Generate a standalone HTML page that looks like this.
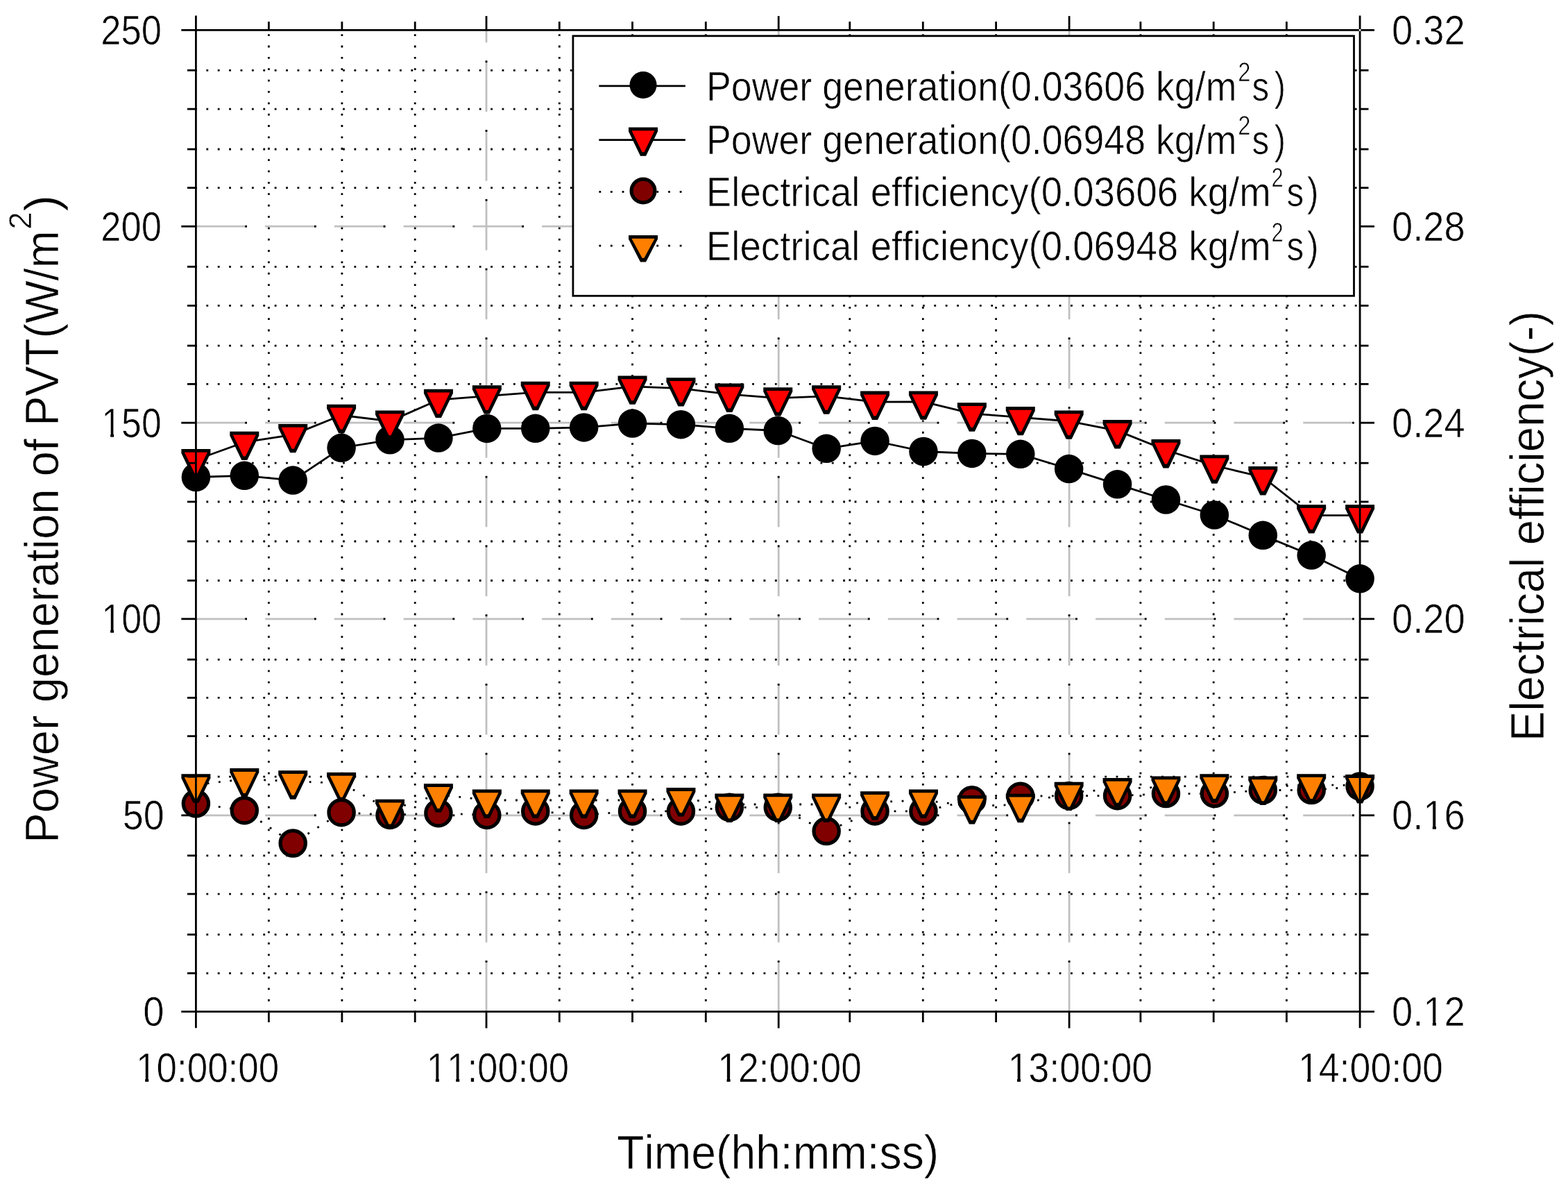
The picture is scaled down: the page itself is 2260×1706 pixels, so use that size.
<!DOCTYPE html><html><head><meta charset="utf-8"><style>html,body{margin:0;padding:0;background:#fff;overflow:hidden;width:2260px;height:1706px;}svg{display:block;}text{font-family:"Liberation Sans",Arial,sans-serif;fill:#000;font-kerning:none;font-feature-settings:"kern" 0;stroke:#fff;stroke-width:0.7px;}</style></head><body>
<svg width="2260" height="1706" viewBox="0 0 2260 1706">
<rect x="0" y="0" width="2260" height="1706" fill="#fff"/>
<g id="grid"><line x1="281.00" y1="1402.30" x2="1960.10" y2="1402.30" stroke="#000" stroke-width="2.8" stroke-dasharray="2.8 13.59"/><line x1="281.00" y1="1346.60" x2="1960.10" y2="1346.60" stroke="#000" stroke-width="2.8" stroke-dasharray="2.8 13.59"/><line x1="281.00" y1="1288.10" x2="1960.10" y2="1288.10" stroke="#000" stroke-width="2.8" stroke-dasharray="2.8 13.59"/><line x1="281.00" y1="1232.80" x2="1960.10" y2="1232.80" stroke="#000" stroke-width="2.8" stroke-dasharray="2.8 13.59"/><line x1="281.00" y1="1119.20" x2="1960.10" y2="1119.20" stroke="#000" stroke-width="2.8" stroke-dasharray="2.8 13.59"/><line x1="281.00" y1="1060.70" x2="1960.10" y2="1060.70" stroke="#000" stroke-width="2.8" stroke-dasharray="2.8 13.59"/><line x1="281.00" y1="1005.40" x2="1960.10" y2="1005.40" stroke="#000" stroke-width="2.8" stroke-dasharray="2.8 13.59"/><line x1="281.00" y1="950.30" x2="1960.10" y2="950.30" stroke="#000" stroke-width="2.8" stroke-dasharray="2.8 13.59"/><line x1="281.00" y1="836.50" x2="1960.10" y2="836.50" stroke="#000" stroke-width="2.8" stroke-dasharray="2.8 13.59"/><line x1="281.00" y1="780.00" x2="1960.10" y2="780.00" stroke="#000" stroke-width="2.8" stroke-dasharray="2.8 13.59"/><line x1="281.00" y1="723.00" x2="1960.10" y2="723.00" stroke="#000" stroke-width="2.8" stroke-dasharray="2.8 13.59"/><line x1="281.00" y1="667.20" x2="1960.10" y2="667.20" stroke="#000" stroke-width="2.8" stroke-dasharray="2.8 13.59"/><line x1="281.00" y1="553.40" x2="1960.10" y2="553.40" stroke="#000" stroke-width="2.8" stroke-dasharray="2.8 13.59"/><line x1="281.00" y1="498.10" x2="1960.10" y2="498.10" stroke="#000" stroke-width="2.8" stroke-dasharray="2.8 13.59"/><line x1="281.00" y1="440.40" x2="1960.10" y2="440.40" stroke="#000" stroke-width="2.8" stroke-dasharray="2.8 13.59"/><line x1="281.00" y1="384.30" x2="1960.10" y2="384.30" stroke="#000" stroke-width="2.8" stroke-dasharray="2.8 13.59"/><line x1="281.00" y1="270.60" x2="1960.10" y2="270.60" stroke="#000" stroke-width="2.8" stroke-dasharray="2.8 13.59"/><line x1="281.00" y1="215.00" x2="1960.10" y2="215.00" stroke="#000" stroke-width="2.8" stroke-dasharray="2.8 13.59"/><line x1="281.00" y1="157.10" x2="1960.10" y2="157.10" stroke="#000" stroke-width="2.8" stroke-dasharray="2.8 13.59"/><line x1="281.00" y1="101.30" x2="1960.10" y2="101.30" stroke="#000" stroke-width="2.8" stroke-dasharray="2.8 13.59"/><line x1="387.40" y1="1459.00" x2="387.40" y2="43.40" stroke="#000" stroke-width="2.8" stroke-dasharray="2.8 13.56"/><line x1="492.90" y1="1459.00" x2="492.90" y2="43.40" stroke="#000" stroke-width="2.8" stroke-dasharray="2.8 13.56"/><line x1="598.20" y1="1459.00" x2="598.20" y2="43.40" stroke="#000" stroke-width="2.8" stroke-dasharray="2.8 13.56"/><line x1="806.30" y1="1459.00" x2="806.30" y2="43.40" stroke="#000" stroke-width="2.8" stroke-dasharray="2.8 13.56"/><line x1="911.50" y1="1459.00" x2="911.50" y2="43.40" stroke="#000" stroke-width="2.8" stroke-dasharray="2.8 13.56"/><line x1="1017.30" y1="1459.00" x2="1017.30" y2="43.40" stroke="#000" stroke-width="2.8" stroke-dasharray="2.8 13.56"/><line x1="1224.80" y1="1459.00" x2="1224.80" y2="43.40" stroke="#000" stroke-width="2.8" stroke-dasharray="2.8 13.56"/><line x1="1330.30" y1="1459.00" x2="1330.30" y2="43.40" stroke="#000" stroke-width="2.8" stroke-dasharray="2.8 13.56"/><line x1="1435.60" y1="1459.00" x2="1435.60" y2="43.40" stroke="#000" stroke-width="2.8" stroke-dasharray="2.8 13.56"/><line x1="1643.90" y1="1459.00" x2="1643.90" y2="43.40" stroke="#000" stroke-width="2.8" stroke-dasharray="2.8 13.56"/><line x1="1749.20" y1="1459.00" x2="1749.20" y2="43.40" stroke="#000" stroke-width="2.8" stroke-dasharray="2.8 13.56"/><line x1="1854.40" y1="1459.00" x2="1854.40" y2="43.40" stroke="#000" stroke-width="2.8" stroke-dasharray="2.8 13.56"/><line x1="282.40" y1="1174.80" x2="356.00" y2="1174.80" stroke="#c0c0c0" stroke-width="2.8"/><rect x="353.20" y="1173.40" width="2.8" height="2.8" fill="#000"/><line x1="382.14" y1="1174.80" x2="455.74" y2="1174.80" stroke="#c0c0c0" stroke-width="2.8"/><rect x="452.94" y="1173.40" width="2.8" height="2.8" fill="#000"/><line x1="481.88" y1="1174.80" x2="555.48" y2="1174.80" stroke="#c0c0c0" stroke-width="2.8"/><rect x="552.68" y="1173.40" width="2.8" height="2.8" fill="#000"/><line x1="581.62" y1="1174.80" x2="655.22" y2="1174.80" stroke="#c0c0c0" stroke-width="2.8"/><rect x="652.42" y="1173.40" width="2.8" height="2.8" fill="#000"/><line x1="681.36" y1="1174.80" x2="754.96" y2="1174.80" stroke="#c0c0c0" stroke-width="2.8"/><rect x="752.16" y="1173.40" width="2.8" height="2.8" fill="#000"/><line x1="781.10" y1="1174.80" x2="854.70" y2="1174.80" stroke="#c0c0c0" stroke-width="2.8"/><rect x="851.90" y="1173.40" width="2.8" height="2.8" fill="#000"/><line x1="880.84" y1="1174.80" x2="954.44" y2="1174.80" stroke="#c0c0c0" stroke-width="2.8"/><rect x="951.64" y="1173.40" width="2.8" height="2.8" fill="#000"/><line x1="980.58" y1="1174.80" x2="1054.18" y2="1174.80" stroke="#c0c0c0" stroke-width="2.8"/><rect x="1051.38" y="1173.40" width="2.8" height="2.8" fill="#000"/><line x1="1080.32" y1="1174.80" x2="1153.92" y2="1174.80" stroke="#c0c0c0" stroke-width="2.8"/><rect x="1151.12" y="1173.40" width="2.8" height="2.8" fill="#000"/><line x1="1180.06" y1="1174.80" x2="1253.66" y2="1174.80" stroke="#c0c0c0" stroke-width="2.8"/><rect x="1250.86" y="1173.40" width="2.8" height="2.8" fill="#000"/><line x1="1279.80" y1="1174.80" x2="1353.40" y2="1174.80" stroke="#c0c0c0" stroke-width="2.8"/><rect x="1350.60" y="1173.40" width="2.8" height="2.8" fill="#000"/><line x1="1379.54" y1="1174.80" x2="1453.14" y2="1174.80" stroke="#c0c0c0" stroke-width="2.8"/><rect x="1450.34" y="1173.40" width="2.8" height="2.8" fill="#000"/><line x1="1479.28" y1="1174.80" x2="1552.88" y2="1174.80" stroke="#c0c0c0" stroke-width="2.8"/><rect x="1550.08" y="1173.40" width="2.8" height="2.8" fill="#000"/><line x1="1579.02" y1="1174.80" x2="1652.62" y2="1174.80" stroke="#c0c0c0" stroke-width="2.8"/><rect x="1649.82" y="1173.40" width="2.8" height="2.8" fill="#000"/><line x1="1678.76" y1="1174.80" x2="1752.36" y2="1174.80" stroke="#c0c0c0" stroke-width="2.8"/><rect x="1749.56" y="1173.40" width="2.8" height="2.8" fill="#000"/><line x1="1778.50" y1="1174.80" x2="1852.10" y2="1174.80" stroke="#c0c0c0" stroke-width="2.8"/><rect x="1849.30" y="1173.40" width="2.8" height="2.8" fill="#000"/><line x1="1878.24" y1="1174.80" x2="1951.84" y2="1174.80" stroke="#c0c0c0" stroke-width="2.8"/><rect x="1949.04" y="1173.40" width="2.8" height="2.8" fill="#000"/><line x1="282.40" y1="891.80" x2="356.00" y2="891.80" stroke="#c0c0c0" stroke-width="2.8"/><rect x="353.20" y="890.40" width="2.8" height="2.8" fill="#000"/><line x1="382.14" y1="891.80" x2="455.74" y2="891.80" stroke="#c0c0c0" stroke-width="2.8"/><rect x="452.94" y="890.40" width="2.8" height="2.8" fill="#000"/><line x1="481.88" y1="891.80" x2="555.48" y2="891.80" stroke="#c0c0c0" stroke-width="2.8"/><rect x="552.68" y="890.40" width="2.8" height="2.8" fill="#000"/><line x1="581.62" y1="891.80" x2="655.22" y2="891.80" stroke="#c0c0c0" stroke-width="2.8"/><rect x="652.42" y="890.40" width="2.8" height="2.8" fill="#000"/><line x1="681.36" y1="891.80" x2="754.96" y2="891.80" stroke="#c0c0c0" stroke-width="2.8"/><rect x="752.16" y="890.40" width="2.8" height="2.8" fill="#000"/><line x1="781.10" y1="891.80" x2="854.70" y2="891.80" stroke="#c0c0c0" stroke-width="2.8"/><rect x="851.90" y="890.40" width="2.8" height="2.8" fill="#000"/><line x1="880.84" y1="891.80" x2="954.44" y2="891.80" stroke="#c0c0c0" stroke-width="2.8"/><rect x="951.64" y="890.40" width="2.8" height="2.8" fill="#000"/><line x1="980.58" y1="891.80" x2="1054.18" y2="891.80" stroke="#c0c0c0" stroke-width="2.8"/><rect x="1051.38" y="890.40" width="2.8" height="2.8" fill="#000"/><line x1="1080.32" y1="891.80" x2="1153.92" y2="891.80" stroke="#c0c0c0" stroke-width="2.8"/><rect x="1151.12" y="890.40" width="2.8" height="2.8" fill="#000"/><line x1="1180.06" y1="891.80" x2="1253.66" y2="891.80" stroke="#c0c0c0" stroke-width="2.8"/><rect x="1250.86" y="890.40" width="2.8" height="2.8" fill="#000"/><line x1="1279.80" y1="891.80" x2="1353.40" y2="891.80" stroke="#c0c0c0" stroke-width="2.8"/><rect x="1350.60" y="890.40" width="2.8" height="2.8" fill="#000"/><line x1="1379.54" y1="891.80" x2="1453.14" y2="891.80" stroke="#c0c0c0" stroke-width="2.8"/><rect x="1450.34" y="890.40" width="2.8" height="2.8" fill="#000"/><line x1="1479.28" y1="891.80" x2="1552.88" y2="891.80" stroke="#c0c0c0" stroke-width="2.8"/><rect x="1550.08" y="890.40" width="2.8" height="2.8" fill="#000"/><line x1="1579.02" y1="891.80" x2="1652.62" y2="891.80" stroke="#c0c0c0" stroke-width="2.8"/><rect x="1649.82" y="890.40" width="2.8" height="2.8" fill="#000"/><line x1="1678.76" y1="891.80" x2="1752.36" y2="891.80" stroke="#c0c0c0" stroke-width="2.8"/><rect x="1749.56" y="890.40" width="2.8" height="2.8" fill="#000"/><line x1="1778.50" y1="891.80" x2="1852.10" y2="891.80" stroke="#c0c0c0" stroke-width="2.8"/><rect x="1849.30" y="890.40" width="2.8" height="2.8" fill="#000"/><line x1="1878.24" y1="891.80" x2="1951.84" y2="891.80" stroke="#c0c0c0" stroke-width="2.8"/><rect x="1949.04" y="890.40" width="2.8" height="2.8" fill="#000"/><line x1="282.40" y1="609.20" x2="356.00" y2="609.20" stroke="#c0c0c0" stroke-width="2.8"/><rect x="353.20" y="607.80" width="2.8" height="2.8" fill="#000"/><line x1="382.14" y1="609.20" x2="455.74" y2="609.20" stroke="#c0c0c0" stroke-width="2.8"/><rect x="452.94" y="607.80" width="2.8" height="2.8" fill="#000"/><line x1="481.88" y1="609.20" x2="555.48" y2="609.20" stroke="#c0c0c0" stroke-width="2.8"/><rect x="552.68" y="607.80" width="2.8" height="2.8" fill="#000"/><line x1="581.62" y1="609.20" x2="655.22" y2="609.20" stroke="#c0c0c0" stroke-width="2.8"/><rect x="652.42" y="607.80" width="2.8" height="2.8" fill="#000"/><line x1="681.36" y1="609.20" x2="754.96" y2="609.20" stroke="#c0c0c0" stroke-width="2.8"/><rect x="752.16" y="607.80" width="2.8" height="2.8" fill="#000"/><line x1="781.10" y1="609.20" x2="854.70" y2="609.20" stroke="#c0c0c0" stroke-width="2.8"/><rect x="851.90" y="607.80" width="2.8" height="2.8" fill="#000"/><line x1="880.84" y1="609.20" x2="954.44" y2="609.20" stroke="#c0c0c0" stroke-width="2.8"/><rect x="951.64" y="607.80" width="2.8" height="2.8" fill="#000"/><line x1="980.58" y1="609.20" x2="1054.18" y2="609.20" stroke="#c0c0c0" stroke-width="2.8"/><rect x="1051.38" y="607.80" width="2.8" height="2.8" fill="#000"/><line x1="1080.32" y1="609.20" x2="1153.92" y2="609.20" stroke="#c0c0c0" stroke-width="2.8"/><rect x="1151.12" y="607.80" width="2.8" height="2.8" fill="#000"/><line x1="1180.06" y1="609.20" x2="1253.66" y2="609.20" stroke="#c0c0c0" stroke-width="2.8"/><rect x="1250.86" y="607.80" width="2.8" height="2.8" fill="#000"/><line x1="1279.80" y1="609.20" x2="1353.40" y2="609.20" stroke="#c0c0c0" stroke-width="2.8"/><rect x="1350.60" y="607.80" width="2.8" height="2.8" fill="#000"/><line x1="1379.54" y1="609.20" x2="1453.14" y2="609.20" stroke="#c0c0c0" stroke-width="2.8"/><rect x="1450.34" y="607.80" width="2.8" height="2.8" fill="#000"/><line x1="1479.28" y1="609.20" x2="1552.88" y2="609.20" stroke="#c0c0c0" stroke-width="2.8"/><rect x="1550.08" y="607.80" width="2.8" height="2.8" fill="#000"/><line x1="1579.02" y1="609.20" x2="1652.62" y2="609.20" stroke="#c0c0c0" stroke-width="2.8"/><rect x="1649.82" y="607.80" width="2.8" height="2.8" fill="#000"/><line x1="1678.76" y1="609.20" x2="1752.36" y2="609.20" stroke="#c0c0c0" stroke-width="2.8"/><rect x="1749.56" y="607.80" width="2.8" height="2.8" fill="#000"/><line x1="1778.50" y1="609.20" x2="1852.10" y2="609.20" stroke="#c0c0c0" stroke-width="2.8"/><rect x="1849.30" y="607.80" width="2.8" height="2.8" fill="#000"/><line x1="1878.24" y1="609.20" x2="1951.84" y2="609.20" stroke="#c0c0c0" stroke-width="2.8"/><rect x="1949.04" y="607.80" width="2.8" height="2.8" fill="#000"/><line x1="282.40" y1="326.20" x2="356.00" y2="326.20" stroke="#c0c0c0" stroke-width="2.8"/><rect x="353.20" y="324.80" width="2.8" height="2.8" fill="#000"/><line x1="382.14" y1="326.20" x2="455.74" y2="326.20" stroke="#c0c0c0" stroke-width="2.8"/><rect x="452.94" y="324.80" width="2.8" height="2.8" fill="#000"/><line x1="481.88" y1="326.20" x2="555.48" y2="326.20" stroke="#c0c0c0" stroke-width="2.8"/><rect x="552.68" y="324.80" width="2.8" height="2.8" fill="#000"/><line x1="581.62" y1="326.20" x2="655.22" y2="326.20" stroke="#c0c0c0" stroke-width="2.8"/><rect x="652.42" y="324.80" width="2.8" height="2.8" fill="#000"/><line x1="681.36" y1="326.20" x2="754.96" y2="326.20" stroke="#c0c0c0" stroke-width="2.8"/><rect x="752.16" y="324.80" width="2.8" height="2.8" fill="#000"/><line x1="781.10" y1="326.20" x2="854.70" y2="326.20" stroke="#c0c0c0" stroke-width="2.8"/><rect x="851.90" y="324.80" width="2.8" height="2.8" fill="#000"/><line x1="880.84" y1="326.20" x2="954.44" y2="326.20" stroke="#c0c0c0" stroke-width="2.8"/><rect x="951.64" y="324.80" width="2.8" height="2.8" fill="#000"/><line x1="980.58" y1="326.20" x2="1054.18" y2="326.20" stroke="#c0c0c0" stroke-width="2.8"/><rect x="1051.38" y="324.80" width="2.8" height="2.8" fill="#000"/><line x1="1080.32" y1="326.20" x2="1153.92" y2="326.20" stroke="#c0c0c0" stroke-width="2.8"/><rect x="1151.12" y="324.80" width="2.8" height="2.8" fill="#000"/><line x1="1180.06" y1="326.20" x2="1253.66" y2="326.20" stroke="#c0c0c0" stroke-width="2.8"/><rect x="1250.86" y="324.80" width="2.8" height="2.8" fill="#000"/><line x1="1279.80" y1="326.20" x2="1353.40" y2="326.20" stroke="#c0c0c0" stroke-width="2.8"/><rect x="1350.60" y="324.80" width="2.8" height="2.8" fill="#000"/><line x1="1379.54" y1="326.20" x2="1453.14" y2="326.20" stroke="#c0c0c0" stroke-width="2.8"/><rect x="1450.34" y="324.80" width="2.8" height="2.8" fill="#000"/><line x1="1479.28" y1="326.20" x2="1552.88" y2="326.20" stroke="#c0c0c0" stroke-width="2.8"/><rect x="1550.08" y="324.80" width="2.8" height="2.8" fill="#000"/><line x1="1579.02" y1="326.20" x2="1652.62" y2="326.20" stroke="#c0c0c0" stroke-width="2.8"/><rect x="1649.82" y="324.80" width="2.8" height="2.8" fill="#000"/><line x1="1678.76" y1="326.20" x2="1752.36" y2="326.20" stroke="#c0c0c0" stroke-width="2.8"/><rect x="1749.56" y="324.80" width="2.8" height="2.8" fill="#000"/><line x1="1778.50" y1="326.20" x2="1852.10" y2="326.20" stroke="#c0c0c0" stroke-width="2.8"/><rect x="1849.30" y="324.80" width="2.8" height="2.8" fill="#000"/><line x1="1878.24" y1="326.20" x2="1951.84" y2="326.20" stroke="#c0c0c0" stroke-width="2.8"/><rect x="1949.04" y="324.80" width="2.8" height="2.8" fill="#000"/><line x1="701.00" y1="1457.60" x2="701.00" y2="1384.00" stroke="#c0c0c0" stroke-width="2.8"/><rect x="699.60" y="1384.00" width="2.8" height="2.8" fill="#000"/><line x1="701.00" y1="1357.86" x2="701.00" y2="1284.26" stroke="#c0c0c0" stroke-width="2.8"/><rect x="699.60" y="1284.26" width="2.8" height="2.8" fill="#000"/><line x1="701.00" y1="1258.12" x2="701.00" y2="1184.52" stroke="#c0c0c0" stroke-width="2.8"/><rect x="699.60" y="1184.52" width="2.8" height="2.8" fill="#000"/><line x1="701.00" y1="1158.38" x2="701.00" y2="1084.78" stroke="#c0c0c0" stroke-width="2.8"/><rect x="699.60" y="1084.78" width="2.8" height="2.8" fill="#000"/><line x1="701.00" y1="1058.64" x2="701.00" y2="985.04" stroke="#c0c0c0" stroke-width="2.8"/><rect x="699.60" y="985.04" width="2.8" height="2.8" fill="#000"/><line x1="701.00" y1="958.90" x2="701.00" y2="885.30" stroke="#c0c0c0" stroke-width="2.8"/><rect x="699.60" y="885.30" width="2.8" height="2.8" fill="#000"/><line x1="701.00" y1="859.16" x2="701.00" y2="785.56" stroke="#c0c0c0" stroke-width="2.8"/><rect x="699.60" y="785.56" width="2.8" height="2.8" fill="#000"/><line x1="701.00" y1="759.42" x2="701.00" y2="685.82" stroke="#c0c0c0" stroke-width="2.8"/><rect x="699.60" y="685.82" width="2.8" height="2.8" fill="#000"/><line x1="701.00" y1="659.68" x2="701.00" y2="586.08" stroke="#c0c0c0" stroke-width="2.8"/><rect x="699.60" y="586.08" width="2.8" height="2.8" fill="#000"/><line x1="701.00" y1="559.94" x2="701.00" y2="486.34" stroke="#c0c0c0" stroke-width="2.8"/><rect x="699.60" y="486.34" width="2.8" height="2.8" fill="#000"/><line x1="701.00" y1="460.20" x2="701.00" y2="386.60" stroke="#c0c0c0" stroke-width="2.8"/><rect x="699.60" y="386.60" width="2.8" height="2.8" fill="#000"/><line x1="701.00" y1="360.46" x2="701.00" y2="286.86" stroke="#c0c0c0" stroke-width="2.8"/><rect x="699.60" y="286.86" width="2.8" height="2.8" fill="#000"/><line x1="701.00" y1="260.72" x2="701.00" y2="187.12" stroke="#c0c0c0" stroke-width="2.8"/><rect x="699.60" y="187.12" width="2.8" height="2.8" fill="#000"/><line x1="701.00" y1="160.98" x2="701.00" y2="87.38" stroke="#c0c0c0" stroke-width="2.8"/><rect x="699.60" y="87.38" width="2.8" height="2.8" fill="#000"/><line x1="701.00" y1="61.24" x2="701.00" y2="43.40" stroke="#c0c0c0" stroke-width="2.8"/><line x1="1122.20" y1="1457.60" x2="1122.20" y2="1384.00" stroke="#c0c0c0" stroke-width="2.8"/><rect x="1120.80" y="1384.00" width="2.8" height="2.8" fill="#000"/><line x1="1122.20" y1="1357.86" x2="1122.20" y2="1284.26" stroke="#c0c0c0" stroke-width="2.8"/><rect x="1120.80" y="1284.26" width="2.8" height="2.8" fill="#000"/><line x1="1122.20" y1="1258.12" x2="1122.20" y2="1184.52" stroke="#c0c0c0" stroke-width="2.8"/><rect x="1120.80" y="1184.52" width="2.8" height="2.8" fill="#000"/><line x1="1122.20" y1="1158.38" x2="1122.20" y2="1084.78" stroke="#c0c0c0" stroke-width="2.8"/><rect x="1120.80" y="1084.78" width="2.8" height="2.8" fill="#000"/><line x1="1122.20" y1="1058.64" x2="1122.20" y2="985.04" stroke="#c0c0c0" stroke-width="2.8"/><rect x="1120.80" y="985.04" width="2.8" height="2.8" fill="#000"/><line x1="1122.20" y1="958.90" x2="1122.20" y2="885.30" stroke="#c0c0c0" stroke-width="2.8"/><rect x="1120.80" y="885.30" width="2.8" height="2.8" fill="#000"/><line x1="1122.20" y1="859.16" x2="1122.20" y2="785.56" stroke="#c0c0c0" stroke-width="2.8"/><rect x="1120.80" y="785.56" width="2.8" height="2.8" fill="#000"/><line x1="1122.20" y1="759.42" x2="1122.20" y2="685.82" stroke="#c0c0c0" stroke-width="2.8"/><rect x="1120.80" y="685.82" width="2.8" height="2.8" fill="#000"/><line x1="1122.20" y1="659.68" x2="1122.20" y2="586.08" stroke="#c0c0c0" stroke-width="2.8"/><rect x="1120.80" y="586.08" width="2.8" height="2.8" fill="#000"/><line x1="1122.20" y1="559.94" x2="1122.20" y2="486.34" stroke="#c0c0c0" stroke-width="2.8"/><rect x="1120.80" y="486.34" width="2.8" height="2.8" fill="#000"/><line x1="1122.20" y1="460.20" x2="1122.20" y2="386.60" stroke="#c0c0c0" stroke-width="2.8"/><rect x="1120.80" y="386.60" width="2.8" height="2.8" fill="#000"/><line x1="1122.20" y1="360.46" x2="1122.20" y2="286.86" stroke="#c0c0c0" stroke-width="2.8"/><rect x="1120.80" y="286.86" width="2.8" height="2.8" fill="#000"/><line x1="1122.20" y1="260.72" x2="1122.20" y2="187.12" stroke="#c0c0c0" stroke-width="2.8"/><rect x="1120.80" y="187.12" width="2.8" height="2.8" fill="#000"/><line x1="1122.20" y1="160.98" x2="1122.20" y2="87.38" stroke="#c0c0c0" stroke-width="2.8"/><rect x="1120.80" y="87.38" width="2.8" height="2.8" fill="#000"/><line x1="1122.20" y1="61.24" x2="1122.20" y2="43.40" stroke="#c0c0c0" stroke-width="2.8"/><line x1="1541.10" y1="1457.60" x2="1541.10" y2="1384.00" stroke="#c0c0c0" stroke-width="2.8"/><rect x="1539.70" y="1384.00" width="2.8" height="2.8" fill="#000"/><line x1="1541.10" y1="1357.86" x2="1541.10" y2="1284.26" stroke="#c0c0c0" stroke-width="2.8"/><rect x="1539.70" y="1284.26" width="2.8" height="2.8" fill="#000"/><line x1="1541.10" y1="1258.12" x2="1541.10" y2="1184.52" stroke="#c0c0c0" stroke-width="2.8"/><rect x="1539.70" y="1184.52" width="2.8" height="2.8" fill="#000"/><line x1="1541.10" y1="1158.38" x2="1541.10" y2="1084.78" stroke="#c0c0c0" stroke-width="2.8"/><rect x="1539.70" y="1084.78" width="2.8" height="2.8" fill="#000"/><line x1="1541.10" y1="1058.64" x2="1541.10" y2="985.04" stroke="#c0c0c0" stroke-width="2.8"/><rect x="1539.70" y="985.04" width="2.8" height="2.8" fill="#000"/><line x1="1541.10" y1="958.90" x2="1541.10" y2="885.30" stroke="#c0c0c0" stroke-width="2.8"/><rect x="1539.70" y="885.30" width="2.8" height="2.8" fill="#000"/><line x1="1541.10" y1="859.16" x2="1541.10" y2="785.56" stroke="#c0c0c0" stroke-width="2.8"/><rect x="1539.70" y="785.56" width="2.8" height="2.8" fill="#000"/><line x1="1541.10" y1="759.42" x2="1541.10" y2="685.82" stroke="#c0c0c0" stroke-width="2.8"/><rect x="1539.70" y="685.82" width="2.8" height="2.8" fill="#000"/><line x1="1541.10" y1="659.68" x2="1541.10" y2="586.08" stroke="#c0c0c0" stroke-width="2.8"/><rect x="1539.70" y="586.08" width="2.8" height="2.8" fill="#000"/><line x1="1541.10" y1="559.94" x2="1541.10" y2="486.34" stroke="#c0c0c0" stroke-width="2.8"/><rect x="1539.70" y="486.34" width="2.8" height="2.8" fill="#000"/><line x1="1541.10" y1="460.20" x2="1541.10" y2="386.60" stroke="#c0c0c0" stroke-width="2.8"/><rect x="1539.70" y="386.60" width="2.8" height="2.8" fill="#000"/><line x1="1541.10" y1="360.46" x2="1541.10" y2="286.86" stroke="#c0c0c0" stroke-width="2.8"/><rect x="1539.70" y="286.86" width="2.8" height="2.8" fill="#000"/><line x1="1541.10" y1="260.72" x2="1541.10" y2="187.12" stroke="#c0c0c0" stroke-width="2.8"/><rect x="1539.70" y="187.12" width="2.8" height="2.8" fill="#000"/><line x1="1541.10" y1="160.98" x2="1541.10" y2="87.38" stroke="#c0c0c0" stroke-width="2.8"/><rect x="1539.70" y="87.38" width="2.8" height="2.8" fill="#000"/><line x1="1541.10" y1="61.24" x2="1541.10" y2="43.40" stroke="#c0c0c0" stroke-width="2.8"/></g>
<g id="data"><polyline points="282.40,687.50 352.30,685.30 422.21,692.10 492.11,645.30 562.02,633.80 631.92,631.10 701.82,617.40 771.73,617.30 841.63,615.90 911.54,610.10 981.44,611.70 1051.35,617.30 1121.25,620.50 1191.15,646.30 1261.06,635.40 1330.96,650.50 1400.87,653.40 1470.77,654.30 1540.67,675.60 1610.58,697.80 1680.48,720.00 1750.39,742.00 1820.29,771.30 1890.20,800.10 1960.10,833.80" fill="none" stroke="#000" stroke-width="2.8" stroke-linejoin="round"/><circle cx="282.40" cy="687.50" r="20.75" fill="#000"/><circle cx="352.30" cy="685.30" r="20.75" fill="#000"/><circle cx="422.21" cy="692.10" r="20.75" fill="#000"/><circle cx="492.11" cy="645.30" r="20.75" fill="#000"/><circle cx="562.02" cy="633.80" r="20.75" fill="#000"/><circle cx="631.92" cy="631.10" r="20.75" fill="#000"/><circle cx="701.82" cy="617.40" r="20.75" fill="#000"/><circle cx="771.73" cy="617.30" r="20.75" fill="#000"/><circle cx="841.63" cy="615.90" r="20.75" fill="#000"/><circle cx="911.54" cy="610.10" r="20.75" fill="#000"/><circle cx="981.44" cy="611.70" r="20.75" fill="#000"/><circle cx="1051.35" cy="617.30" r="20.75" fill="#000"/><circle cx="1121.25" cy="620.50" r="20.75" fill="#000"/><circle cx="1191.15" cy="646.30" r="20.75" fill="#000"/><circle cx="1261.06" cy="635.40" r="20.75" fill="#000"/><circle cx="1330.96" cy="650.50" r="20.75" fill="#000"/><circle cx="1400.87" cy="653.40" r="20.75" fill="#000"/><circle cx="1470.77" cy="654.30" r="20.75" fill="#000"/><circle cx="1540.67" cy="675.60" r="20.75" fill="#000"/><circle cx="1610.58" cy="697.80" r="20.75" fill="#000"/><circle cx="1680.48" cy="720.00" r="20.75" fill="#000"/><circle cx="1750.39" cy="742.00" r="20.75" fill="#000"/><circle cx="1820.29" cy="771.30" r="20.75" fill="#000"/><circle cx="1890.20" cy="800.10" r="20.75" fill="#000"/><circle cx="1960.10" cy="833.80" r="20.75" fill="#000"/><polyline points="282.40,662.50 352.30,637.20 422.21,626.40 492.11,598.30 562.02,606.90 631.92,576.20 701.82,570.70 771.73,565.30 841.63,565.30 911.54,556.90 981.44,559.70 1051.35,568.10 1121.25,573.70 1191.15,570.80 1261.06,579.10 1330.96,578.90 1400.87,595.80 1470.77,601.40 1540.67,606.90 1610.58,620.60 1680.48,648.50 1750.39,670.90 1820.29,687.50 1890.20,742.70 1960.10,742.70" fill="none" stroke="#000" stroke-width="2.8" stroke-linejoin="round"/><path d="M261.40,647.00L303.40,647.00L303.40,653.00L286.40,688.40L278.40,688.40L261.40,653.00Z" fill="#000"/><path d="M265.80,651.80L299.00,651.80L283.90,682.80L280.90,682.80Z" fill="#ff0000"/><path d="M331.30,621.70L373.30,621.70L373.30,627.70L356.30,663.10L348.30,663.10L331.30,627.70Z" fill="#000"/><path d="M335.70,626.50L368.90,626.50L353.80,657.50L350.80,657.50Z" fill="#ff0000"/><path d="M401.21,610.90L443.21,610.90L443.21,616.90L426.21,652.30L418.21,652.30L401.21,616.90Z" fill="#000"/><path d="M405.61,615.70L438.81,615.70L423.71,646.70L420.71,646.70Z" fill="#ff0000"/><path d="M471.11,582.80L513.11,582.80L513.11,588.80L496.11,624.20L488.11,624.20L471.11,588.80Z" fill="#000"/><path d="M475.51,587.60L508.71,587.60L493.61,618.60L490.61,618.60Z" fill="#ff0000"/><path d="M541.02,591.40L583.02,591.40L583.02,597.40L566.02,632.80L558.02,632.80L541.02,597.40Z" fill="#000"/><path d="M545.42,596.20L578.62,596.20L563.52,627.20L560.52,627.20Z" fill="#ff0000"/><path d="M610.92,560.70L652.92,560.70L652.92,566.70L635.92,602.10L627.92,602.10L610.92,566.70Z" fill="#000"/><path d="M615.32,565.50L648.52,565.50L633.42,596.50L630.42,596.50Z" fill="#ff0000"/><path d="M680.82,555.20L722.82,555.20L722.82,561.20L705.82,596.60L697.82,596.60L680.82,561.20Z" fill="#000"/><path d="M685.22,560.00L718.42,560.00L703.32,591.00L700.32,591.00Z" fill="#ff0000"/><path d="M750.73,549.80L792.73,549.80L792.73,555.80L775.73,591.20L767.73,591.20L750.73,555.80Z" fill="#000"/><path d="M755.13,554.60L788.33,554.60L773.23,585.60L770.23,585.60Z" fill="#ff0000"/><path d="M820.63,549.80L862.63,549.80L862.63,555.80L845.63,591.20L837.63,591.20L820.63,555.80Z" fill="#000"/><path d="M825.03,554.60L858.23,554.60L843.13,585.60L840.13,585.60Z" fill="#ff0000"/><path d="M890.54,541.40L932.54,541.40L932.54,547.40L915.54,582.80L907.54,582.80L890.54,547.40Z" fill="#000"/><path d="M894.94,546.20L928.14,546.20L913.04,577.20L910.04,577.20Z" fill="#ff0000"/><path d="M960.44,544.20L1002.44,544.20L1002.44,550.20L985.44,585.60L977.44,585.60L960.44,550.20Z" fill="#000"/><path d="M964.84,549.00L998.04,549.00L982.94,580.00L979.94,580.00Z" fill="#ff0000"/><path d="M1030.35,552.60L1072.35,552.60L1072.35,558.60L1055.35,594.00L1047.35,594.00L1030.35,558.60Z" fill="#000"/><path d="M1034.75,557.40L1067.95,557.40L1052.85,588.40L1049.85,588.40Z" fill="#ff0000"/><path d="M1100.25,558.20L1142.25,558.20L1142.25,564.20L1125.25,599.60L1117.25,599.60L1100.25,564.20Z" fill="#000"/><path d="M1104.65,563.00L1137.85,563.00L1122.75,594.00L1119.75,594.00Z" fill="#ff0000"/><path d="M1170.15,555.30L1212.15,555.30L1212.15,561.30L1195.15,596.70L1187.15,596.70L1170.15,561.30Z" fill="#000"/><path d="M1174.55,560.10L1207.75,560.10L1192.65,591.10L1189.65,591.10Z" fill="#ff0000"/><path d="M1240.06,563.60L1282.06,563.60L1282.06,569.60L1265.06,605.00L1257.06,605.00L1240.06,569.60Z" fill="#000"/><path d="M1244.46,568.40L1277.66,568.40L1262.56,599.40L1259.56,599.40Z" fill="#ff0000"/><path d="M1309.96,563.40L1351.96,563.40L1351.96,569.40L1334.96,604.80L1326.96,604.80L1309.96,569.40Z" fill="#000"/><path d="M1314.36,568.20L1347.56,568.20L1332.46,599.20L1329.46,599.20Z" fill="#ff0000"/><path d="M1379.87,580.30L1421.87,580.30L1421.87,586.30L1404.87,621.70L1396.87,621.70L1379.87,586.30Z" fill="#000"/><path d="M1384.27,585.10L1417.47,585.10L1402.37,616.10L1399.37,616.10Z" fill="#ff0000"/><path d="M1449.77,585.90L1491.77,585.90L1491.77,591.90L1474.77,627.30L1466.77,627.30L1449.77,591.90Z" fill="#000"/><path d="M1454.17,590.70L1487.37,590.70L1472.27,621.70L1469.27,621.70Z" fill="#ff0000"/><path d="M1519.67,591.40L1561.67,591.40L1561.67,597.40L1544.67,632.80L1536.67,632.80L1519.67,597.40Z" fill="#000"/><path d="M1524.07,596.20L1557.27,596.20L1542.17,627.20L1539.17,627.20Z" fill="#ff0000"/><path d="M1589.58,605.10L1631.58,605.10L1631.58,611.10L1614.58,646.50L1606.58,646.50L1589.58,611.10Z" fill="#000"/><path d="M1593.98,609.90L1627.18,609.90L1612.08,640.90L1609.08,640.90Z" fill="#ff0000"/><path d="M1659.48,633.00L1701.48,633.00L1701.48,639.00L1684.48,674.40L1676.48,674.40L1659.48,639.00Z" fill="#000"/><path d="M1663.88,637.80L1697.08,637.80L1681.98,668.80L1678.98,668.80Z" fill="#ff0000"/><path d="M1729.39,655.40L1771.39,655.40L1771.39,661.40L1754.39,696.80L1746.39,696.80L1729.39,661.40Z" fill="#000"/><path d="M1733.79,660.20L1766.99,660.20L1751.89,691.20L1748.89,691.20Z" fill="#ff0000"/><path d="M1799.29,672.00L1841.29,672.00L1841.29,678.00L1824.29,713.40L1816.29,713.40L1799.29,678.00Z" fill="#000"/><path d="M1803.69,676.80L1836.89,676.80L1821.79,707.80L1818.79,707.80Z" fill="#ff0000"/><path d="M1869.20,727.20L1911.20,727.20L1911.20,733.20L1894.20,768.60L1886.20,768.60L1869.20,733.20Z" fill="#000"/><path d="M1873.60,732.00L1906.80,732.00L1891.70,763.00L1888.70,763.00Z" fill="#ff0000"/><path d="M1939.10,727.20L1981.10,727.20L1981.10,733.20L1964.10,768.60L1956.10,768.60L1939.10,733.20Z" fill="#000"/><path d="M1943.50,732.00L1976.70,732.00L1961.60,763.00L1958.60,763.00Z" fill="#ff0000"/><polyline points="282.40,1157.80 352.30,1167.70 422.21,1215.00 492.11,1170.70 562.02,1174.40 631.92,1171.70 701.82,1174.40 771.73,1168.90 841.63,1174.40 911.54,1168.90 981.44,1168.90 1051.35,1163.30 1121.25,1163.30 1191.15,1197.60 1261.06,1168.90 1330.96,1168.90 1400.87,1152.70 1470.77,1147.20 1540.67,1146.70 1610.58,1146.70 1680.48,1143.60 1750.39,1143.60 1820.29,1138.50 1890.20,1138.50 1960.10,1133.00" fill="none" stroke="#000" stroke-width="2.8" stroke-dasharray="2.8 13.59"/><circle cx="282.40" cy="1157.80" r="18.15" fill="#800000" stroke="#000" stroke-width="5.2"/><circle cx="352.30" cy="1167.70" r="18.15" fill="#800000" stroke="#000" stroke-width="5.2"/><circle cx="422.21" cy="1215.00" r="18.15" fill="#800000" stroke="#000" stroke-width="5.2"/><circle cx="492.11" cy="1170.70" r="18.15" fill="#800000" stroke="#000" stroke-width="5.2"/><circle cx="562.02" cy="1174.40" r="18.15" fill="#800000" stroke="#000" stroke-width="5.2"/><circle cx="631.92" cy="1171.70" r="18.15" fill="#800000" stroke="#000" stroke-width="5.2"/><circle cx="701.82" cy="1174.40" r="18.15" fill="#800000" stroke="#000" stroke-width="5.2"/><circle cx="771.73" cy="1168.90" r="18.15" fill="#800000" stroke="#000" stroke-width="5.2"/><circle cx="841.63" cy="1174.40" r="18.15" fill="#800000" stroke="#000" stroke-width="5.2"/><circle cx="911.54" cy="1168.90" r="18.15" fill="#800000" stroke="#000" stroke-width="5.2"/><circle cx="981.44" cy="1168.90" r="18.15" fill="#800000" stroke="#000" stroke-width="5.2"/><circle cx="1051.35" cy="1163.30" r="18.15" fill="#800000" stroke="#000" stroke-width="5.2"/><circle cx="1121.25" cy="1163.30" r="18.15" fill="#800000" stroke="#000" stroke-width="5.2"/><circle cx="1191.15" cy="1197.60" r="18.15" fill="#800000" stroke="#000" stroke-width="5.2"/><circle cx="1261.06" cy="1168.90" r="18.15" fill="#800000" stroke="#000" stroke-width="5.2"/><circle cx="1330.96" cy="1168.90" r="18.15" fill="#800000" stroke="#000" stroke-width="5.2"/><circle cx="1400.87" cy="1152.70" r="18.15" fill="#800000" stroke="#000" stroke-width="5.2"/><circle cx="1470.77" cy="1147.20" r="18.15" fill="#800000" stroke="#000" stroke-width="5.2"/><circle cx="1540.67" cy="1146.70" r="18.15" fill="#800000" stroke="#000" stroke-width="5.2"/><circle cx="1610.58" cy="1146.70" r="18.15" fill="#800000" stroke="#000" stroke-width="5.2"/><circle cx="1680.48" cy="1143.60" r="18.15" fill="#800000" stroke="#000" stroke-width="5.2"/><circle cx="1750.39" cy="1143.60" r="18.15" fill="#800000" stroke="#000" stroke-width="5.2"/><circle cx="1820.29" cy="1138.50" r="18.15" fill="#800000" stroke="#000" stroke-width="5.2"/><circle cx="1890.20" cy="1138.50" r="18.15" fill="#800000" stroke="#000" stroke-width="5.2"/><circle cx="1960.10" cy="1133.00" r="18.15" fill="#800000" stroke="#000" stroke-width="5.2"/><polyline points="282.40,1130.80 352.30,1122.60 422.21,1125.80 492.11,1128.40 562.02,1167.20 631.92,1144.70 701.82,1153.00 771.73,1153.00 841.63,1153.00 911.54,1153.00 981.44,1150.60 1051.35,1159.00 1121.25,1159.00 1191.15,1159.00 1261.06,1155.80 1330.96,1153.00 1400.87,1161.50 1470.77,1159.30 1540.67,1142.20 1610.58,1136.40 1680.48,1134.00 1750.39,1130.80 1820.29,1134.00 1890.20,1130.80 1960.10,1131.60" fill="none" stroke="#000" stroke-width="2.8" stroke-dasharray="2.8 13.59"/><path d="M261.40,1115.30L303.40,1115.30L303.40,1121.30L286.40,1156.70L278.40,1156.70L261.40,1121.30Z" fill="#000"/><path d="M265.80,1120.10L299.00,1120.10L283.90,1151.10L280.90,1151.10Z" fill="#ff8000"/><path d="M331.30,1107.10L373.30,1107.10L373.30,1113.10L356.30,1148.50L348.30,1148.50L331.30,1113.10Z" fill="#000"/><path d="M335.70,1111.90L368.90,1111.90L353.80,1142.90L350.80,1142.90Z" fill="#ff8000"/><path d="M401.21,1110.30L443.21,1110.30L443.21,1116.30L426.21,1151.70L418.21,1151.70L401.21,1116.30Z" fill="#000"/><path d="M405.61,1115.10L438.81,1115.10L423.71,1146.10L420.71,1146.10Z" fill="#ff8000"/><path d="M471.11,1112.90L513.11,1112.90L513.11,1118.90L496.11,1154.30L488.11,1154.30L471.11,1118.90Z" fill="#000"/><path d="M475.51,1117.70L508.71,1117.70L493.61,1148.70L490.61,1148.70Z" fill="#ff8000"/><path d="M541.02,1151.70L583.02,1151.70L583.02,1157.70L566.02,1193.10L558.02,1193.10L541.02,1157.70Z" fill="#000"/><path d="M545.42,1156.50L578.62,1156.50L563.52,1187.50L560.52,1187.50Z" fill="#ff8000"/><path d="M610.92,1129.20L652.92,1129.20L652.92,1135.20L635.92,1170.60L627.92,1170.60L610.92,1135.20Z" fill="#000"/><path d="M615.32,1134.00L648.52,1134.00L633.42,1165.00L630.42,1165.00Z" fill="#ff8000"/><path d="M680.82,1137.50L722.82,1137.50L722.82,1143.50L705.82,1178.90L697.82,1178.90L680.82,1143.50Z" fill="#000"/><path d="M685.22,1142.30L718.42,1142.30L703.32,1173.30L700.32,1173.30Z" fill="#ff8000"/><path d="M750.73,1137.50L792.73,1137.50L792.73,1143.50L775.73,1178.90L767.73,1178.90L750.73,1143.50Z" fill="#000"/><path d="M755.13,1142.30L788.33,1142.30L773.23,1173.30L770.23,1173.30Z" fill="#ff8000"/><path d="M820.63,1137.50L862.63,1137.50L862.63,1143.50L845.63,1178.90L837.63,1178.90L820.63,1143.50Z" fill="#000"/><path d="M825.03,1142.30L858.23,1142.30L843.13,1173.30L840.13,1173.30Z" fill="#ff8000"/><path d="M890.54,1137.50L932.54,1137.50L932.54,1143.50L915.54,1178.90L907.54,1178.90L890.54,1143.50Z" fill="#000"/><path d="M894.94,1142.30L928.14,1142.30L913.04,1173.30L910.04,1173.30Z" fill="#ff8000"/><path d="M960.44,1135.10L1002.44,1135.10L1002.44,1141.10L985.44,1176.50L977.44,1176.50L960.44,1141.10Z" fill="#000"/><path d="M964.84,1139.90L998.04,1139.90L982.94,1170.90L979.94,1170.90Z" fill="#ff8000"/><path d="M1030.35,1143.50L1072.35,1143.50L1072.35,1149.50L1055.35,1184.90L1047.35,1184.90L1030.35,1149.50Z" fill="#000"/><path d="M1034.75,1148.30L1067.95,1148.30L1052.85,1179.30L1049.85,1179.30Z" fill="#ff8000"/><path d="M1100.25,1143.50L1142.25,1143.50L1142.25,1149.50L1125.25,1184.90L1117.25,1184.90L1100.25,1149.50Z" fill="#000"/><path d="M1104.65,1148.30L1137.85,1148.30L1122.75,1179.30L1119.75,1179.30Z" fill="#ff8000"/><path d="M1170.15,1143.50L1212.15,1143.50L1212.15,1149.50L1195.15,1184.90L1187.15,1184.90L1170.15,1149.50Z" fill="#000"/><path d="M1174.55,1148.30L1207.75,1148.30L1192.65,1179.30L1189.65,1179.30Z" fill="#ff8000"/><path d="M1240.06,1140.30L1282.06,1140.30L1282.06,1146.30L1265.06,1181.70L1257.06,1181.70L1240.06,1146.30Z" fill="#000"/><path d="M1244.46,1145.10L1277.66,1145.10L1262.56,1176.10L1259.56,1176.10Z" fill="#ff8000"/><path d="M1309.96,1137.50L1351.96,1137.50L1351.96,1143.50L1334.96,1178.90L1326.96,1178.90L1309.96,1143.50Z" fill="#000"/><path d="M1314.36,1142.30L1347.56,1142.30L1332.46,1173.30L1329.46,1173.30Z" fill="#ff8000"/><path d="M1379.87,1146.00L1421.87,1146.00L1421.87,1152.00L1404.87,1187.40L1396.87,1187.40L1379.87,1152.00Z" fill="#000"/><path d="M1384.27,1150.80L1417.47,1150.80L1402.37,1181.80L1399.37,1181.80Z" fill="#ff8000"/><path d="M1449.77,1143.80L1491.77,1143.80L1491.77,1149.80L1474.77,1185.20L1466.77,1185.20L1449.77,1149.80Z" fill="#000"/><path d="M1454.17,1148.60L1487.37,1148.60L1472.27,1179.60L1469.27,1179.60Z" fill="#ff8000"/><path d="M1519.67,1126.70L1561.67,1126.70L1561.67,1132.70L1544.67,1168.10L1536.67,1168.10L1519.67,1132.70Z" fill="#000"/><path d="M1524.07,1131.50L1557.27,1131.50L1542.17,1162.50L1539.17,1162.50Z" fill="#ff8000"/><path d="M1589.58,1120.90L1631.58,1120.90L1631.58,1126.90L1614.58,1162.30L1606.58,1162.30L1589.58,1126.90Z" fill="#000"/><path d="M1593.98,1125.70L1627.18,1125.70L1612.08,1156.70L1609.08,1156.70Z" fill="#ff8000"/><path d="M1659.48,1118.50L1701.48,1118.50L1701.48,1124.50L1684.48,1159.90L1676.48,1159.90L1659.48,1124.50Z" fill="#000"/><path d="M1663.88,1123.30L1697.08,1123.30L1681.98,1154.30L1678.98,1154.30Z" fill="#ff8000"/><path d="M1729.39,1115.30L1771.39,1115.30L1771.39,1121.30L1754.39,1156.70L1746.39,1156.70L1729.39,1121.30Z" fill="#000"/><path d="M1733.79,1120.10L1766.99,1120.10L1751.89,1151.10L1748.89,1151.10Z" fill="#ff8000"/><path d="M1799.29,1118.50L1841.29,1118.50L1841.29,1124.50L1824.29,1159.90L1816.29,1159.90L1799.29,1124.50Z" fill="#000"/><path d="M1803.69,1123.30L1836.89,1123.30L1821.79,1154.30L1818.79,1154.30Z" fill="#ff8000"/><path d="M1869.20,1115.30L1911.20,1115.30L1911.20,1121.30L1894.20,1156.70L1886.20,1156.70L1869.20,1121.30Z" fill="#000"/><path d="M1873.60,1120.10L1906.80,1120.10L1891.70,1151.10L1888.70,1151.10Z" fill="#ff8000"/><path d="M1939.10,1116.10L1981.10,1116.10L1981.10,1122.10L1964.10,1157.50L1956.10,1157.50L1939.10,1122.10Z" fill="#000"/><path d="M1943.50,1120.90L1976.70,1120.90L1961.60,1151.90L1958.60,1151.90Z" fill="#ff8000"/></g>
<g id="axes"><line x1="261.3" y1="43.40" x2="1981.0" y2="43.40" stroke="#000" stroke-width="2.8"/><line x1="261.3" y1="1457.60" x2="1981.0" y2="1457.60" stroke="#000" stroke-width="2.8"/><line x1="282.40" y1="22.6" x2="282.40" y2="1481.3" stroke="#000" stroke-width="2.8"/><line x1="1960.10" y1="22.6" x2="1960.10" y2="1481.3" stroke="#000" stroke-width="2.8"/><line x1="270.00" y1="1402.30" x2="282.40" y2="1402.30" stroke="#000" stroke-width="2.8"/><line x1="1960.10" y1="1402.30" x2="1972.50" y2="1402.30" stroke="#000" stroke-width="2.8"/><line x1="270.00" y1="1346.60" x2="282.40" y2="1346.60" stroke="#000" stroke-width="2.8"/><line x1="1960.10" y1="1346.60" x2="1972.50" y2="1346.60" stroke="#000" stroke-width="2.8"/><line x1="270.00" y1="1288.10" x2="282.40" y2="1288.10" stroke="#000" stroke-width="2.8"/><line x1="1960.10" y1="1288.10" x2="1972.50" y2="1288.10" stroke="#000" stroke-width="2.8"/><line x1="270.00" y1="1232.80" x2="282.40" y2="1232.80" stroke="#000" stroke-width="2.8"/><line x1="1960.10" y1="1232.80" x2="1972.50" y2="1232.80" stroke="#000" stroke-width="2.8"/><line x1="261.30" y1="1174.80" x2="282.40" y2="1174.80" stroke="#000" stroke-width="2.8"/><line x1="1960.10" y1="1174.80" x2="1981.00" y2="1174.80" stroke="#000" stroke-width="2.8"/><line x1="270.00" y1="1119.20" x2="282.40" y2="1119.20" stroke="#000" stroke-width="2.8"/><line x1="1960.10" y1="1119.20" x2="1972.50" y2="1119.20" stroke="#000" stroke-width="2.8"/><line x1="270.00" y1="1060.70" x2="282.40" y2="1060.70" stroke="#000" stroke-width="2.8"/><line x1="1960.10" y1="1060.70" x2="1972.50" y2="1060.70" stroke="#000" stroke-width="2.8"/><line x1="270.00" y1="1005.40" x2="282.40" y2="1005.40" stroke="#000" stroke-width="2.8"/><line x1="1960.10" y1="1005.40" x2="1972.50" y2="1005.40" stroke="#000" stroke-width="2.8"/><line x1="270.00" y1="950.30" x2="282.40" y2="950.30" stroke="#000" stroke-width="2.8"/><line x1="1960.10" y1="950.30" x2="1972.50" y2="950.30" stroke="#000" stroke-width="2.8"/><line x1="261.30" y1="891.80" x2="282.40" y2="891.80" stroke="#000" stroke-width="2.8"/><line x1="1960.10" y1="891.80" x2="1981.00" y2="891.80" stroke="#000" stroke-width="2.8"/><line x1="270.00" y1="836.50" x2="282.40" y2="836.50" stroke="#000" stroke-width="2.8"/><line x1="1960.10" y1="836.50" x2="1972.50" y2="836.50" stroke="#000" stroke-width="2.8"/><line x1="270.00" y1="780.00" x2="282.40" y2="780.00" stroke="#000" stroke-width="2.8"/><line x1="1960.10" y1="780.00" x2="1972.50" y2="780.00" stroke="#000" stroke-width="2.8"/><line x1="270.00" y1="723.00" x2="282.40" y2="723.00" stroke="#000" stroke-width="2.8"/><line x1="1960.10" y1="723.00" x2="1972.50" y2="723.00" stroke="#000" stroke-width="2.8"/><line x1="270.00" y1="667.20" x2="282.40" y2="667.20" stroke="#000" stroke-width="2.8"/><line x1="1960.10" y1="667.20" x2="1972.50" y2="667.20" stroke="#000" stroke-width="2.8"/><line x1="261.30" y1="609.20" x2="282.40" y2="609.20" stroke="#000" stroke-width="2.8"/><line x1="1960.10" y1="609.20" x2="1981.00" y2="609.20" stroke="#000" stroke-width="2.8"/><line x1="270.00" y1="553.40" x2="282.40" y2="553.40" stroke="#000" stroke-width="2.8"/><line x1="1960.10" y1="553.40" x2="1972.50" y2="553.40" stroke="#000" stroke-width="2.8"/><line x1="270.00" y1="498.10" x2="282.40" y2="498.10" stroke="#000" stroke-width="2.8"/><line x1="1960.10" y1="498.10" x2="1972.50" y2="498.10" stroke="#000" stroke-width="2.8"/><line x1="270.00" y1="440.40" x2="282.40" y2="440.40" stroke="#000" stroke-width="2.8"/><line x1="1960.10" y1="440.40" x2="1972.50" y2="440.40" stroke="#000" stroke-width="2.8"/><line x1="270.00" y1="384.30" x2="282.40" y2="384.30" stroke="#000" stroke-width="2.8"/><line x1="1960.10" y1="384.30" x2="1972.50" y2="384.30" stroke="#000" stroke-width="2.8"/><line x1="261.30" y1="326.20" x2="282.40" y2="326.20" stroke="#000" stroke-width="2.8"/><line x1="1960.10" y1="326.20" x2="1981.00" y2="326.20" stroke="#000" stroke-width="2.8"/><line x1="270.00" y1="270.60" x2="282.40" y2="270.60" stroke="#000" stroke-width="2.8"/><line x1="1960.10" y1="270.60" x2="1972.50" y2="270.60" stroke="#000" stroke-width="2.8"/><line x1="270.00" y1="215.00" x2="282.40" y2="215.00" stroke="#000" stroke-width="2.8"/><line x1="1960.10" y1="215.00" x2="1972.50" y2="215.00" stroke="#000" stroke-width="2.8"/><line x1="270.00" y1="157.10" x2="282.40" y2="157.10" stroke="#000" stroke-width="2.8"/><line x1="1960.10" y1="157.10" x2="1972.50" y2="157.10" stroke="#000" stroke-width="2.8"/><line x1="270.00" y1="101.30" x2="282.40" y2="101.30" stroke="#000" stroke-width="2.8"/><line x1="1960.10" y1="101.30" x2="1972.50" y2="101.30" stroke="#000" stroke-width="2.8"/><line x1="387.40" y1="1457.60" x2="387.40" y2="1473.00" stroke="#000" stroke-width="2.8"/><line x1="387.40" y1="31.20" x2="387.40" y2="43.40" stroke="#000" stroke-width="2.8"/><line x1="492.90" y1="1457.60" x2="492.90" y2="1473.00" stroke="#000" stroke-width="2.8"/><line x1="492.90" y1="31.20" x2="492.90" y2="43.40" stroke="#000" stroke-width="2.8"/><line x1="598.20" y1="1457.60" x2="598.20" y2="1473.00" stroke="#000" stroke-width="2.8"/><line x1="598.20" y1="31.20" x2="598.20" y2="43.40" stroke="#000" stroke-width="2.8"/><line x1="701.00" y1="1457.60" x2="701.00" y2="1481.50" stroke="#000" stroke-width="2.8"/><line x1="701.00" y1="23.10" x2="701.00" y2="43.40" stroke="#000" stroke-width="2.8"/><line x1="806.30" y1="1457.60" x2="806.30" y2="1473.00" stroke="#000" stroke-width="2.8"/><line x1="806.30" y1="31.20" x2="806.30" y2="43.40" stroke="#000" stroke-width="2.8"/><line x1="911.50" y1="1457.60" x2="911.50" y2="1473.00" stroke="#000" stroke-width="2.8"/><line x1="911.50" y1="31.20" x2="911.50" y2="43.40" stroke="#000" stroke-width="2.8"/><line x1="1017.30" y1="1457.60" x2="1017.30" y2="1473.00" stroke="#000" stroke-width="2.8"/><line x1="1017.30" y1="31.20" x2="1017.30" y2="43.40" stroke="#000" stroke-width="2.8"/><line x1="1122.20" y1="1457.60" x2="1122.20" y2="1481.50" stroke="#000" stroke-width="2.8"/><line x1="1122.20" y1="23.10" x2="1122.20" y2="43.40" stroke="#000" stroke-width="2.8"/><line x1="1224.80" y1="1457.60" x2="1224.80" y2="1473.00" stroke="#000" stroke-width="2.8"/><line x1="1224.80" y1="31.20" x2="1224.80" y2="43.40" stroke="#000" stroke-width="2.8"/><line x1="1330.30" y1="1457.60" x2="1330.30" y2="1473.00" stroke="#000" stroke-width="2.8"/><line x1="1330.30" y1="31.20" x2="1330.30" y2="43.40" stroke="#000" stroke-width="2.8"/><line x1="1435.60" y1="1457.60" x2="1435.60" y2="1473.00" stroke="#000" stroke-width="2.8"/><line x1="1435.60" y1="31.20" x2="1435.60" y2="43.40" stroke="#000" stroke-width="2.8"/><line x1="1541.10" y1="1457.60" x2="1541.10" y2="1481.50" stroke="#000" stroke-width="2.8"/><line x1="1541.10" y1="23.10" x2="1541.10" y2="43.40" stroke="#000" stroke-width="2.8"/><line x1="1643.90" y1="1457.60" x2="1643.90" y2="1473.00" stroke="#000" stroke-width="2.8"/><line x1="1643.90" y1="31.20" x2="1643.90" y2="43.40" stroke="#000" stroke-width="2.8"/><line x1="1749.20" y1="1457.60" x2="1749.20" y2="1473.00" stroke="#000" stroke-width="2.8"/><line x1="1749.20" y1="31.20" x2="1749.20" y2="43.40" stroke="#000" stroke-width="2.8"/><line x1="1854.40" y1="1457.60" x2="1854.40" y2="1473.00" stroke="#000" stroke-width="2.8"/><line x1="1854.40" y1="31.20" x2="1854.40" y2="43.40" stroke="#000" stroke-width="2.8"/><rect x="1958.80" y="42.10" width="2.6" height="2.6" fill="#fff"/></g>
<g id="legend"><rect x="825.9" y="51.8" width="1125.6" height="374.5" fill="#fff" stroke="#000" stroke-width="2.8"/><line x1="863.3" y1="123.8" x2="987.9" y2="123.8" stroke="#000" stroke-width="2.8"/><circle cx="927.0" cy="122.5" r="19.5" fill="#000"/><line x1="863.3" y1="201.6" x2="987.9" y2="201.6" stroke="#000" stroke-width="2.8"/><path d="M906.00,183.40L948.00,183.40L948.00,189.40L931.00,224.80L923.00,224.80L906.00,189.40Z" fill="#000"/><path d="M910.40,188.20L943.60,188.20L928.50,219.20L925.50,219.20Z" fill="#ff0000"/><rect x="863.40" y="275.00" width="2.8" height="2.8" fill="#000"/><rect x="879.90" y="275.00" width="2.8" height="2.8" fill="#000"/><rect x="896.60" y="275.00" width="2.8" height="2.8" fill="#000"/><rect x="946.30" y="275.00" width="2.8" height="2.8" fill="#000"/><rect x="963.10" y="275.00" width="2.8" height="2.8" fill="#000"/><rect x="979.70" y="275.00" width="2.8" height="2.8" fill="#000"/><rect x="863.40" y="352.70" width="2.8" height="2.8" fill="#000"/><rect x="879.90" y="352.70" width="2.8" height="2.8" fill="#000"/><rect x="896.60" y="352.70" width="2.8" height="2.8" fill="#000"/><rect x="946.30" y="352.70" width="2.8" height="2.8" fill="#000"/><rect x="963.10" y="352.70" width="2.8" height="2.8" fill="#000"/><rect x="979.70" y="352.70" width="2.8" height="2.8" fill="#000"/><circle cx="927.00" cy="275.00" r="16.90" fill="#800000" stroke="#000" stroke-width="5.2"/><path d="M906.00,339.00L948.00,339.00L948.00,344.57L931.00,377.40L923.00,377.40L906.00,344.57Z" fill="#000"/><path d="M910.40,343.80L943.60,343.80L928.50,371.80L925.50,371.80Z" fill="#ff8000"/></g>
<g id="text"><text x="145.35" y="64.00" font-size="59.5" textLength="87.66" lengthAdjust="spacingAndGlyphs">250</text><text x="145.25" y="346.80" font-size="59.5" textLength="87.66" lengthAdjust="spacingAndGlyphs">200</text><text x="146.35" y="629.80" font-size="59.5" textLength="86.33" lengthAdjust="spacingAndGlyphs">150</text><text x="146.23" y="912.40" font-size="59.5" textLength="86.76" lengthAdjust="spacingAndGlyphs">100</text><text x="176.78" y="1195.40" font-size="59.5" textLength="60.01" lengthAdjust="spacingAndGlyphs">50</text><text x="206.26" y="1478.20" font-size="59.5" textLength="30.27" lengthAdjust="spacingAndGlyphs">0</text><text x="2006.06" y="1478.20" font-size="59.5" textLength="105.61" lengthAdjust="spacingAndGlyphs">0.12</text><text x="2006.06" y="1195.40" font-size="59.5" textLength="105.61" lengthAdjust="spacingAndGlyphs">0.16</text><text x="2006.06" y="912.40" font-size="59.5" textLength="105.61" lengthAdjust="spacingAndGlyphs">0.20</text><text x="2006.06" y="629.80" font-size="59.5" textLength="105.61" lengthAdjust="spacingAndGlyphs">0.24</text><text x="2006.06" y="346.80" font-size="59.5" textLength="105.61" lengthAdjust="spacingAndGlyphs">0.28</text><text x="2006.06" y="64.00" font-size="59.5" textLength="105.61" lengthAdjust="spacingAndGlyphs">0.32</text><text x="196.05" y="1558.90" font-size="59.5" textLength="206.17" lengthAdjust="spacingAndGlyphs">10:00:00</text><text x="614.76" y="1558.90" font-size="59.5" textLength="205.45" lengthAdjust="spacingAndGlyphs">11:00:00</text><text x="1034.32" y="1558.90" font-size="59.5" textLength="207.62" lengthAdjust="spacingAndGlyphs">12:00:00</text><text x="1452.70" y="1558.90" font-size="59.5" textLength="208.45" lengthAdjust="spacingAndGlyphs">13:00:00</text><text x="1870.89" y="1558.90" font-size="59.5" textLength="209.07" lengthAdjust="spacingAndGlyphs">14:00:00</text><text x="1017.95" y="144.60" font-size="59" textLength="764.48" lengthAdjust="spacingAndGlyphs">Power generation(0.03606 kg/m</text><text x="1784.33" y="117.00" font-size="39.5" textLength="18.31" lengthAdjust="spacingAndGlyphs">2</text><text x="1804.43" y="144.60" font-size="59" textLength="24.66" lengthAdjust="spacingAndGlyphs">s</text><text x="1836.67" y="144.60" font-size="59" textLength="16.25" lengthAdjust="spacingAndGlyphs">)</text><text x="1017.95" y="222.00" font-size="59" textLength="764.48" lengthAdjust="spacingAndGlyphs">Power generation(0.06948 kg/m</text><text x="1784.33" y="194.40" font-size="39.5" textLength="18.31" lengthAdjust="spacingAndGlyphs">2</text><text x="1804.43" y="222.00" font-size="59" textLength="24.66" lengthAdjust="spacingAndGlyphs">s</text><text x="1836.67" y="222.00" font-size="59" textLength="16.25" lengthAdjust="spacingAndGlyphs">)</text><text x="1017.87" y="296.70" font-size="59" textLength="813.89" lengthAdjust="spacingAndGlyphs">Electrical efficiency(0.03606 kg/m</text><text x="1832.53" y="269.10" font-size="39.5" textLength="17.21" lengthAdjust="spacingAndGlyphs">2</text><text x="1854.43" y="296.70" font-size="59" textLength="24.66" lengthAdjust="spacingAndGlyphs">s</text><text x="1884.06" y="296.70" font-size="59" textLength="16.51" lengthAdjust="spacingAndGlyphs">)</text><text x="1017.87" y="375.30" font-size="59" textLength="813.89" lengthAdjust="spacingAndGlyphs">Electrical efficiency(0.06948 kg/m</text><text x="1832.53" y="347.70" font-size="39.5" textLength="17.21" lengthAdjust="spacingAndGlyphs">2</text><text x="1854.43" y="375.30" font-size="59" textLength="24.66" lengthAdjust="spacingAndGlyphs">s</text><text x="1884.06" y="375.30" font-size="59" textLength="16.51" lengthAdjust="spacingAndGlyphs">)</text><text x="889.34" y="1683.80" font-size="69" textLength="463.84" lengthAdjust="spacingAndGlyphs">Time(hh:mm:ss)</text><text transform="translate(84.00,0) rotate(-90)" x="-1214.76" y="0" font-size="69" textLength="882.68" lengthAdjust="spacingAndGlyphs">Power generation of PVT(W/m</text><text transform="translate(44.90,0) rotate(-90)" x="-330.39" y="0" font-size="47" textLength="25.23" lengthAdjust="spacingAndGlyphs">2</text><text transform="translate(84.00,0) rotate(-90)" x="-304.88" y="0" font-size="69" textLength="23.85" lengthAdjust="spacingAndGlyphs">)</text><text transform="translate(2225.00,0) rotate(-90)" x="-1068.17" y="0" font-size="69" textLength="620.06" lengthAdjust="spacingAndGlyphs">Electrical efficiency(-)</text><rect x="149.38" y="623.85" width="9.80" height="7.15" fill="#fff"/><rect x="164.11" y="623.85" width="9.40" height="7.15" fill="#fff"/><rect x="149.28" y="906.45" width="9.85" height="7.15" fill="#fff"/><rect x="164.08" y="906.45" width="9.44" height="7.15" fill="#fff"/><rect x="2054.50" y="1472.25" width="10.28" height="7.15" fill="#fff"/><rect x="2069.94" y="1472.25" width="9.86" height="7.15" fill="#fff"/><rect x="2054.50" y="1189.45" width="10.28" height="7.15" fill="#fff"/><rect x="2069.94" y="1189.45" width="9.86" height="7.15" fill="#fff"/><rect x="199.15" y="1552.95" width="10.03" height="7.15" fill="#fff"/><rect x="214.23" y="1552.95" width="9.62" height="7.15" fill="#fff"/><rect x="617.86" y="1552.95" width="10.00" height="7.15" fill="#fff"/><rect x="632.88" y="1552.95" width="9.59" height="7.15" fill="#fff"/><rect x="647.21" y="1552.95" width="10.00" height="7.15" fill="#fff"/><rect x="662.24" y="1552.95" width="9.59" height="7.15" fill="#fff"/><rect x="1037.44" y="1552.95" width="10.10" height="7.15" fill="#fff"/><rect x="1052.63" y="1552.95" width="9.69" height="7.15" fill="#fff"/><rect x="1455.84" y="1552.95" width="10.15" height="7.15" fill="#fff"/><rect x="1471.08" y="1552.95" width="9.73" height="7.15" fill="#fff"/><rect x="1874.03" y="1552.95" width="10.18" height="7.15" fill="#fff"/><rect x="1889.32" y="1552.95" width="9.76" height="7.15" fill="#fff"/></g>
</svg></body></html>
